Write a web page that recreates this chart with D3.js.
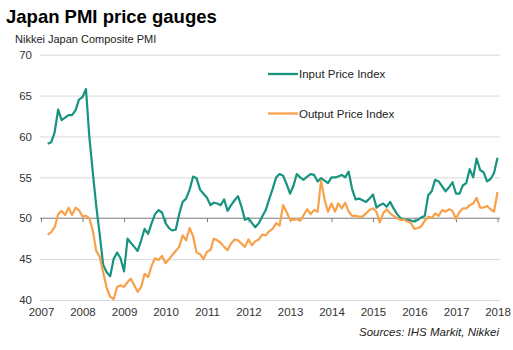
<!DOCTYPE html>
<html>
<head>
<meta charset="utf-8">
<script src="https://cdn.jsdelivr.net/npm/d3@7"></script>
<style>
  html, body { margin: 0; padding: 0; background: #fff; }
  svg { display: block; font-family: "Liberation Sans", Arial, sans-serif; }
</style>
</head>
<body>
<svg id="chart" width="513" height="350"></svg>
<script>
// ---- Data (monthly, Mar 2007 – Jan 2018) ----
const startMonth = "2007-03";
const inputPrice = [
  59.1, 59.3, 60.5, 63.3, 62.0, 62.3, 62.6, 62.6, 63.2, 64.5, 64.8, 65.8,
  60.0, 55.6, 51.5, 48.0, 44.3, 43.4, 42.9, 45.0, 45.8, 45.1, 43.5, 47.5,
  47.0, 46.5, 46.0, 47.3, 48.7, 48.1, 49.4, 50.5, 51.0, 50.7, 49.4, 48.8,
  48.5, 48.6, 50.5, 52.0, 52.4, 53.5, 55.1, 54.9, 53.5, 53.0, 52.5, 51.6,
  51.9, 51.8, 51.6, 52.3, 50.9, 51.6, 52.2, 52.7, 51.4, 49.8, 50.0, 49.4,
  48.9, 49.4, 50.2, 51.0, 52.3, 53.6, 55.0, 55.4, 55.2, 54.2, 53.0, 54.0,
  55.4, 55.0, 54.7, 55.1, 55.4, 55.3, 54.5, 54.9, 54.6, 54.3, 55.0, 55.0,
  55.1, 55.3, 55.0, 55.7, 53.6, 52.3, 52.4, 52.2, 52.0, 52.4, 52.9, 51.3,
  51.6, 51.8, 51.4, 52.0, 51.2, 50.5, 50.0, 49.8, 49.8, 49.7, 49.6, 49.8,
  50.1, 50.3, 52.8, 53.3, 54.7, 54.5, 53.9, 53.3, 53.8, 54.4, 53.0, 53.0,
  54.0, 54.3, 56.0, 55.0, 57.3, 55.9, 55.6, 54.5, 54.8, 55.5, 57.4
];
const outputPrice = [
  48.0, 48.3, 48.9, 50.5, 50.9, 50.4, 51.3, 50.4, 51.3, 51.0, 50.2, 50.3,
  50.0, 48.5, 46.0, 45.3, 43.4, 41.5, 40.4, 40.1, 41.6, 41.8, 41.6, 42.2,
  42.6, 41.8, 41.0, 41.6, 43.2, 42.8, 44.2, 45.1, 44.9, 45.4, 44.5, 45.0,
  45.5, 46.0, 46.5, 47.9, 47.3, 48.8, 47.8, 45.8, 45.6, 45.0, 45.9, 46.1,
  47.5, 47.3, 47.0, 46.5, 46.1, 46.9, 47.4, 47.3, 46.9, 46.5, 47.4, 46.7,
  47.2, 47.4, 48.0, 47.9, 48.4, 48.7, 49.4, 49.1, 51.6, 50.8, 49.8, 49.8,
  49.9, 49.7, 50.4, 51.1, 50.5, 51.0, 50.8, 54.6, 52.3, 50.8, 51.8, 50.8,
  51.8, 51.2, 51.9, 50.8, 50.3, 50.3, 50.2, 50.2, 50.6, 51.0, 51.2, 50.8,
  49.5, 50.6, 51.1, 50.6, 50.3, 50.0, 49.8, 49.8, 49.6, 49.4, 48.7, 48.8,
  49.0, 49.7, 50.2, 50.0, 50.6, 50.3, 51.0, 50.8, 51.1, 50.9, 49.9, 50.8,
  51.2, 51.2, 51.6, 51.8, 52.5, 51.3, 51.3, 51.5, 51.1, 50.8, 53.2
];
const yTicks = [40, 45, 50, 55, 60, 65, 70];
const yearTicks = [2007, 2008, 2009, 2010, 2011, 2012, 2013, 2014, 2015, 2016, 2017, 2018];
const seriesNames = ["Input Price Index", "Output Price Index"];
const titleText = "Japan PMI price gauges";
const subtitleText = "Nikkei Japan Composite PMI";
const sourceText = "Sources: IHS Markit, Nikkei";

// ---- Build ----
const parse = d3.timeParse("%Y-%m");
const start = parse(startMonth);
const dates = inputPrice.map((_, i) => d3.timeMonth.offset(start, i));
const colors = ["#17937f", "#f7a14a"];

const svg = d3.select("#chart");
const gridLeft = 40, gridRight = 500;

const x = d3.scaleTime()
  .domain([new Date(2007, 0, 1), new Date(2018, 0, 1)])
  .range([41, 497.5]);
const y = d3.scaleLinear().domain([40, 70]).range([300, 54.7]);

// Title / subtitle
svg.append("text").attr("x", 6).attr("y", 23)
  .attr("font-size", 18.5).attr("font-weight", "bold").attr("fill", "#000")
  .text(titleText);
svg.append("text").attr("x", 15).attr("y", 43)
  .attr("font-size", 11).attr("fill", "#222")
  .text(subtitleText);

// Gridlines + y labels
const yAxis = d3.axisLeft(y).tickValues(yTicks).tickSize(0).tickPadding(8);
const gy = svg.append("g").attr("transform", `translate(${gridLeft},0)`).call(yAxis);
gy.select(".domain").remove();
gy.selectAll("text").attr("font-size", 11.5).attr("fill", "#333")
  .attr("font-family", "Liberation Sans, Arial, sans-serif");
gy.selectAll(".tick").filter(d => d !== 50).append("line")
  .attr("x1", 0).attr("x2", gridRight - gridLeft)
  .attr("stroke", "#d9d9d9").attr("stroke-width", 1);

// X labels at bottom
const xLab = d3.axisBottom(x)
  .tickValues(yearTicks.map(yr => new Date(yr, 0, 1)))
  .tickFormat(d3.timeFormat("%Y")).tickSize(0).tickPadding(8);
const gxl = svg.append("g").attr("transform", `translate(0,${y(40)})`).call(xLab);
gxl.select(".domain").remove();
gxl.selectAll("text").attr("font-size", 11.5).attr("fill", "#333")
  .attr("font-family", "Liberation Sans, Arial, sans-serif");

// Axis at 50 with ticks
const xAx = d3.axisBottom(x)
  .tickValues(yearTicks.map(yr => new Date(yr, 0, 1)))
  .tickFormat("").tickSizeInner(4).tickSizeOuter(0);
const gx = svg.append("g").attr("transform", `translate(0,${y(50)})`).call(xAx);
gx.select(".domain").attr("d", `M${gridLeft},0H${gridRight}`).attr("stroke", "#7a7a7a");
gx.selectAll(".tick line").attr("stroke", "#7a7a7a");

// Lines
const line = d3.line().x((d, i) => x(dates[i])).y(d => y(d)).curve(d3.curveLinear);
[inputPrice, outputPrice].forEach((s, k) => {
  svg.append("path").datum(s)
    .attr("fill", "none").attr("stroke", colors[k])
    .attr("stroke-width", 2.2).attr("stroke-linejoin", "round")
    .attr("d", line);
});

// Legend
const legY = [74, 113.5];
seriesNames.forEach((name, k) => {
  svg.append("line").attr("x1", 268).attr("x2", 298)
    .attr("y1", legY[k]).attr("y2", legY[k])
    .attr("stroke", colors[k]).attr("stroke-width", 2.3);
  svg.append("text").attr("x", 299).attr("y", legY[k] + 4)
    .attr("font-size", 11.5).attr("fill", "#222").text(name);
});

// Source
svg.append("text").attr("x", 499).attr("y", 336)
  .attr("text-anchor", "end").attr("font-size", 11.5)
  .attr("font-style", "italic").attr("fill", "#222")
  .text(sourceText);
</script>
</body>
</html>
